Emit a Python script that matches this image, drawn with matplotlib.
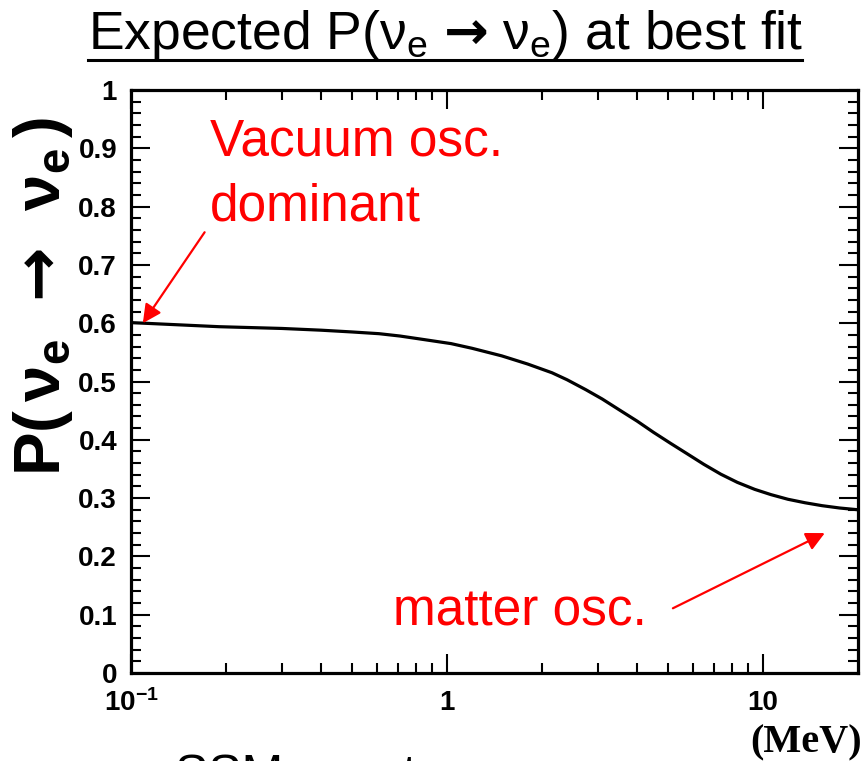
import matplotlib
matplotlib.use('Agg')
import matplotlib.pyplot as plt
from matplotlib.lines import Line2D
from matplotlib.ticker import MultipleLocator, FixedLocator, NullFormatter

plt.rcParams['font.family'] = ['Liberation Sans', 'DejaVu Sans']
plt.rcParams['mathtext.fontset'] = 'custom'
plt.rcParams['mathtext.rm'] = 'Liberation Sans'
plt.rcParams['mathtext.it'] = 'Liberation Sans'
plt.rcParams['mathtext.bf'] = 'Liberation Sans:bold'
# heavy arrow glyph
plt.rcParams['mathtext.sf'] = 'DejaVu Sans:bold'

# survival probability of solar nu_e vs neutrino energy (MeV)
energy = [0.1, 0.19, 0.3, 0.4, 0.5, 0.61, 0.71, 0.82, 1.03, 1.2, 1.49, 1.8,
          2.15, 2.4, 2.75, 3.1, 3.52, 4.0, 4.50, 5.1, 5.76, 6.5, 7.36, 8.3,
          9.42, 10.6, 12.0, 13.6, 15.4, 17.5, 20.0]
prob = [0.601, 0.594, 0.591, 0.588, 0.585, 0.582, 0.578, 0.573, 0.565, 0.557,
        0.544, 0.530, 0.515, 0.503, 0.486, 0.470, 0.451, 0.432, 0.413, 0.394,
        0.376, 0.358, 0.341, 0.327, 0.315, 0.306, 0.298, 0.292, 0.287, 0.283,
        0.280]

x_ticks = [0.1, 1, 10]
x_ticklabels = [r'$\mathbf{10^{-1}}$', '1', '10']

W, H = 866, 761
fig = plt.figure(figsize=(W / 100, H / 100), dpi=100)
ax = fig.add_axes([131 / W, 1 - 673 / H, 727 / W, 583 / H])

ax.plot(energy, prob, color='black', lw=2.3)

ax.set_xscale('log')
ax.set_xlim(0.1, 20)
ax.set_ylim(0, 1)

ax.xaxis.set_major_locator(FixedLocator(x_ticks))
ax.set_xticklabels(x_ticklabels)
ax.xaxis.set_minor_locator(FixedLocator(
    [m * d for d in (0.1, 1, 10) for m in range(2, 10) if m * d < 20]))
ax.xaxis.set_minor_formatter(NullFormatter())
ax.yaxis.set_major_locator(MultipleLocator(0.1))
ax.yaxis.set_minor_locator(MultipleLocator(0.02))
ax.yaxis.set_major_formatter(plt.FuncFormatter(lambda v, p: f'{v:g}'))

ax.tick_params(which='both', direction='in', top=True, right=True,
               width=1.5, labelsize=20)
ax.tick_params(which='major', length=14)
ax.tick_params(which='minor', length=7)
ax.tick_params(axis='y', pad=10)
ax.tick_params(axis='x', pad=12)
for lab in ax.get_yticklabels() + ax.get_xticklabels():
    lab.set_fontweight('bold')
for sp in ax.spines.values():
    sp.set_linewidth(2.3)

ax.text(-0.121, 0.645,
        r'$\mathbf{P(\,\nu_e}\ \ \mathsf{→}\ \ \mathbf{\nu_e\,)}$',
        rotation=90, transform=ax.transAxes, ha='center', va='center',
        fontsize=47)

# annotations
ax.text(0.1087, 0.8885, 'Vacuum osc.', color='red', fontsize=37,
        transform=ax.transAxes, va='baseline')
ax.text(0.1087, 0.777, 'dominant', color='red', fontsize=37,
        transform=ax.transAxes, va='baseline')
ax.text(0.360, 0.0823, 'matter osc.', color='red', fontsize=37,
        transform=ax.transAxes, va='baseline')
arrow = dict(arrowstyle='-|>', color='red', lw=1.6, mutation_scale=28,
             shrinkA=0, shrinkB=0)
ax.annotate('', xy=(0.109, 0.6), xytext=(0.171, 0.756), arrowprops=arrow)
ax.annotate('', xy=(15.7, 0.240), xytext=(5.19, 0.111), arrowprops=arrow)

# title with underline
fig.text(88 / W, 1 - 49 / H,
         r'Expected P($\nu_e$ $\mathsf{→}$ $\nu_e$) at best fit',
         fontsize=38.5, ha='left', va='baseline')
fig.add_artist(Line2D([88 / W, 802 / W], [1 - 60 / H, 1 - 60 / H],
                      color='black', lw=2.2))

fig.text(862 / W, 1 - 752 / H, '(MeV)', family='Liberation Serif',
         fontweight='bold', fontsize=29, ha='right', va='baseline')
fig.text(175 / W, 1 - 790 / H, 'SSM spectrum', fontsize=36,
         ha='left', va='baseline')

fig.savefig('out.png', dpi=100)
